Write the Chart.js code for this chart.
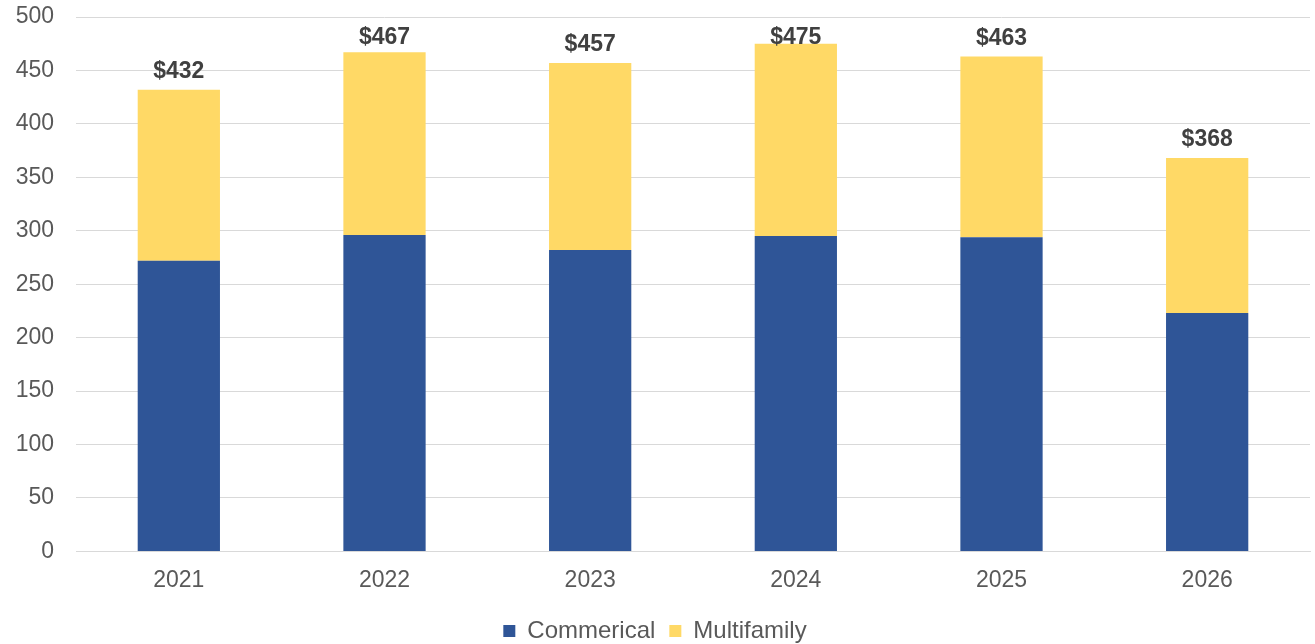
<!DOCTYPE html>
<html>
<head>
<meta charset="utf-8">
<script src="https://cdn.jsdelivr.net/npm/chart.js@4/dist/chart.umd.min.js"></script>
<style>
  html, body { margin: 0; padding: 0; background: #fff; }
  #wrap { width: 1315px; height: 644px; position: relative; }
</style>
</head>
<body>
<div id="wrap"><canvas id="volumeChart"></canvas></div>
<script>
const years = ['2021', '2022', '2023', '2024', '2025', '2026'];
const commercial = [272, 296, 282, 295, 294, 223];
const multifamily = [160, 171, 175, 180, 169, 145];
const totals = [432, 467, 457, 475, 463, 368];

const FONT = '"Liberation Sans", Arial, sans-serif';

// writes the "$total" label above each stacked column
const totalLabels = {
    id: 'totalLabels',
    afterDatasetsDraw(chart) {
        const ctx = chart.ctx;
        const meta = chart.getDatasetMeta(1);
        ctx.save();
        ctx.font = 'bold 23px ' + FONT;
        ctx.fillStyle = '#404040';
        ctx.textAlign = 'center';
        ctx.textBaseline = 'middle';
        meta.data.forEach((bar, i) => {
            const y = Math.max(bar.y - 18, 38);
            ctx.fillText('$' + totals[i], bar.x, y);
        });
        ctx.restore();
    }
};

const ctx = document.getElementById('volumeChart').getContext('2d');
new Chart(ctx, {
    type: 'bar',
    data: {
        labels: years,
        datasets: [{
            label: 'Commerical',
            data: commercial,
            backgroundColor: '#2F5597',
            borderWidth: 0,
            categoryPercentage: 0.4,
            barPercentage: 1
        }, {
            label: 'Multifamily',
            data: multifamily,
            backgroundColor: '#FFD966',
            borderWidth: 0,
            categoryPercentage: 0.4,
            barPercentage: 1
        }]
    },
    options: {
        responsive: true,
        maintainAspectRatio: false,
        animation: false,
        layout: {
            padding: { top: 0, right: 5, bottom: -9, left: 0 }
        },
        plugins: {
            legend: {
                position: 'bottom',
                labels: {
                    color: '#595959',
                    font: { size: 24, family: FONT },
                    boxWidth: 12,
                    boxHeight: 12,
                    padding: 14
                }
            },
            tooltip: { enabled: false }
        },
        scales: {
            x: {
                stacked: true,
                afterFit(scale) { scale.height -= 4; },
                grid: { display: false, drawTicks: false },
                border: { color: '#d9d9d9', width: 1 },
                ticks: {
                    color: '#595959',
                    padding: 15,
                    font: { size: 23, family: FONT }
                }
            },
            y: {
                stacked: true,
                min: 0,
                max: 500,
                afterFit(scale) {
                    scale.width = 76;
                    scale.paddingTop = 17;
                },
                grid: { color: '#d9d9d9', drawTicks: false },
                border: { display: false },
                ticks: {
                    stepSize: 50,
                    color: '#595959',
                    padding: 22,
                    font: { size: 23, family: FONT }
                }
            }
        }
    },
    plugins: [totalLabels]
});
</script>
</body>
</html>
